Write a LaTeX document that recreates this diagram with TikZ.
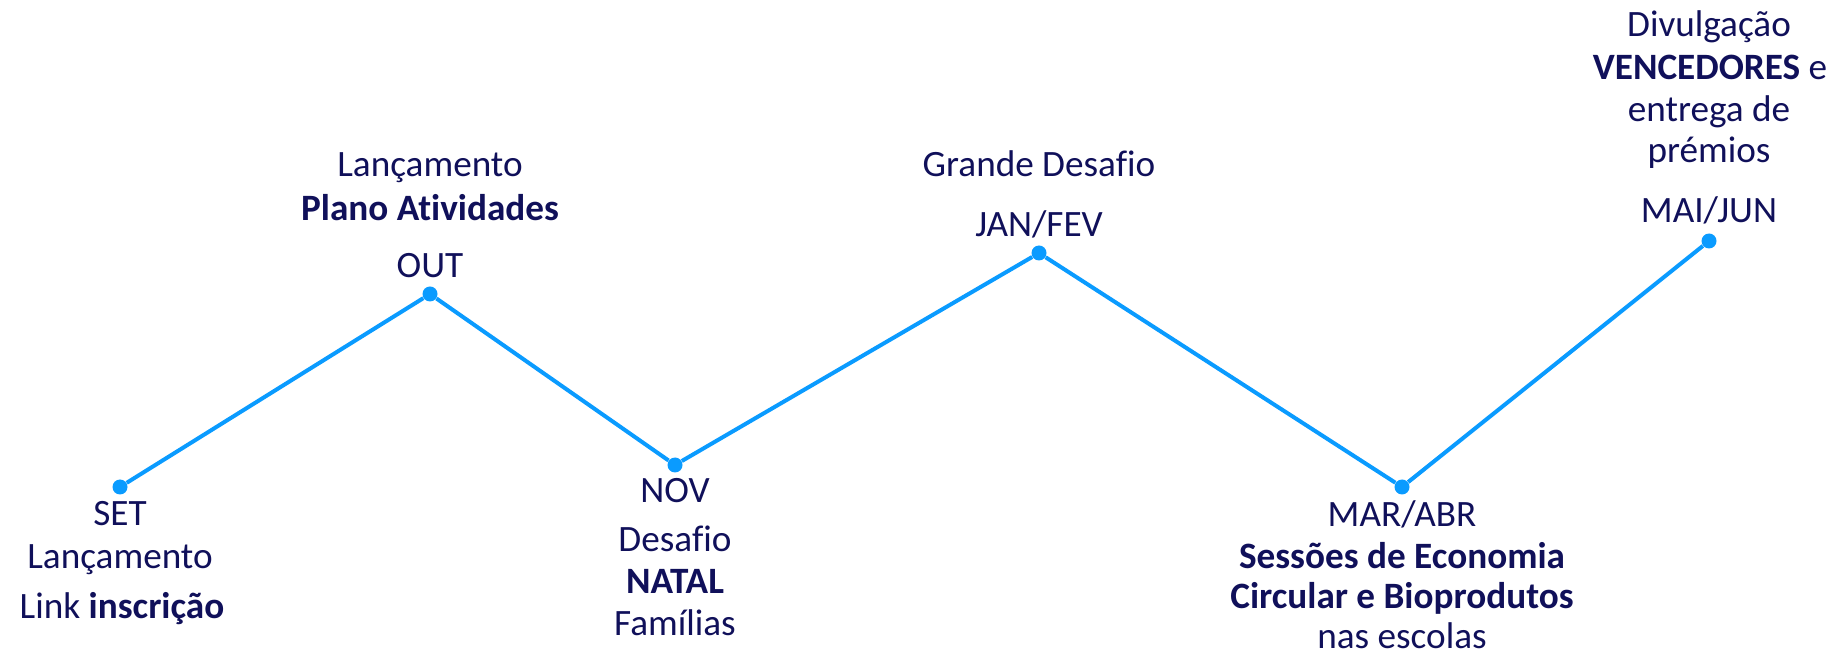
\documentclass[tikz,border=0pt]{standalone}
\usepackage{fontspec}
\setmainfont{Carlito}[Ligatures=NoCommon]
\usepackage{tikz}
\definecolor{tlnavy}{HTML}{10105A}
\definecolor{tlblue}{HTML}{0A9BFF}
\tikzset{
  timeline/.style={x=0.5pt,y=-0.5pt},
  tlline/.style={draw=tlblue,line width=2pt},
  tldot/.style={circle,fill=tlblue,inner sep=0pt,minimum size=7.5pt},
  tltext/.style={anchor=base,inner sep=0pt,text=tlnavy,
    font=\fontsize{18.6}{21}\selectfont}
}

\begin{document}
\begin{tikzpicture}[timeline]
\useasboundingbox (0,0) rectangle (1834,656);
% milestones
\node[tldot] (set) at (120,487) {};
\node[tldot] (out) at (430,294) {};
\node[tldot] (nov) at (675,465) {};
\node[tldot] (jan) at (1039,253) {};
\node[tldot] (mar) at (1402,487) {};
\node[tldot] (mai) at (1709,241) {};
\draw[tlline] (set) -- (out) -- (nov) -- (jan) -- (mar) -- (mai);
% labels, one line each
\foreach \nm/\x/\y/\txt in {
  set1/120/526/SET, set2/120/568/Lançamento, set3/122/618/Link \textbf{inscrição},
  out1/430/177/Lançamento, out2/430/221/\textbf{Plano Atividades}, out3/430/278/OUT,
  nov1/675/503/NOV, nov2/675/552/Desafio, nov3/675/594/\textbf{NATAL}, nov4/675/635/Famílias,
  jan1/1039/177/Grande Desafio, jan2/1039/237/{JAN/FEV},
  mar1/1402/527/{MAR/ABR}, mar2/1402/568/\textbf{Sessões de Economia},
  mar3/1402/608/\textbf{Circular e Bioprodutos}, mar4/1402/648/nas escolas,
  mai1/1709/37/Divulgação, mai2/1710/80/\textbf{VENCEDORES} e,
  mai3/1709/122/entrega de, mai4/1709/163/prémios, mai5/1709/223/{MAI/JUN}}
  \node[tltext] (\nm) at (\x,\y) {\txt};
\end{tikzpicture}
\end{document}
